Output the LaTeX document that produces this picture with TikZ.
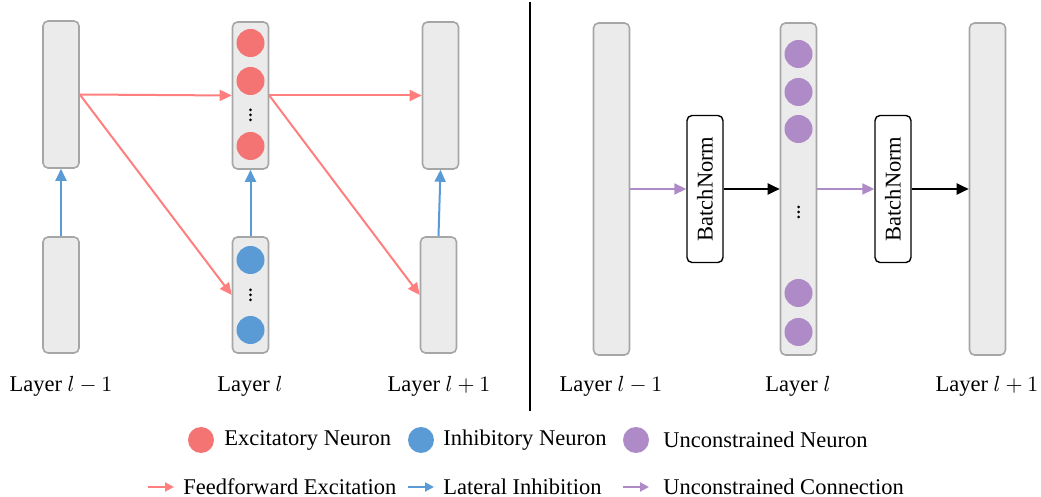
\documentclass[tikz,border=0pt]{standalone}
\usepackage{fontspec}
\setmainfont{Liberation Serif}
\usepackage{tikz}
\usetikzlibrary{arrows.meta,calc}
\definecolor{ExcRed}{HTML}{F47373}
\definecolor{ExcArrow}{HTML}{FF7F7F}
\definecolor{InhBlue}{HTML}{5B9BD5}
\definecolor{FreePurple}{HTML}{AE8AC7}
\definecolor{LayerFill}{HTML}{EBEBEB}
\definecolor{LayerEdge}{HTML}{A6A6A6}
\newcommand{\labelfont}{\fontsize{11.25}{13}\selectfont}
% three small dots stacked at a point
\newcommand{\moredots}[1]{%
  \foreach \dy in {-5,0,5} \fill ($(#1)+(0,\dy)$) circle (0.75pt);}
\tikzset{
  layerbox/.style={draw=LayerEdge, fill=LayerFill, line width=0.8pt, rounded corners=2.5pt,
    minimum width=18pt, inner sep=0pt},
  normbox/.style={draw=black, fill=white, line width=0.7pt, rounded corners=2.5pt,
    minimum width=18pt, minimum height=73.5pt, inner sep=0pt, font=\labelfont},
  neuron/.style={circle, inner sep=0pt, minimum size=14pt},
  keydot/.style={circle, inner sep=0pt, minimum size=13pt},
  exc/.style={ExcArrow, line width=1pt, -{Triangle[length=6pt,width=5.5pt]}},
  inh/.style={InhBlue, line width=1pt, -{Triangle[length=6pt,width=5.5pt]}},
  free/.style={FreePurple, line width=0.9pt, -{Triangle[length=6pt,width=5.5pt]}},
  plain/.style={black, line width=1pt, -{Triangle[length=6pt,width=5.5pt]}},
  keyarrow/.style={line width=1pt, -{Triangle[length=4.5pt,width=4.5pt]}},
  layertext/.style={font=\labelfont, anchor=base},
  keytext/.style={font=\labelfont, anchor=west, inner sep=0pt}
}

\begin{document}
\begin{tikzpicture}[x=0.5pt,y=-0.5pt]
  \useasboundingbox (0,0) rectangle (1041,497);

  %% left panel: layers
  \node[layerbox, minimum height=73.5pt] (a1) at (61,94.5) {};
  \node[layerbox, minimum height=58pt]   (a2) at (61,295) {};
  \node[layerbox, minimum height=73.5pt] (b1) at (250.5,95.5) {};
  \node[layerbox, minimum height=58pt]   (b2) at (250.5,295) {};
  \node[layerbox, minimum height=73.5pt] (c1) at (440.5,95.5) {};
  \node[layerbox, minimum height=58pt]   (c2) at (438.5,295) {};

  %% neurons of layer l
  \foreach \y [count=\i] in {43,81,146}
    \node[neuron, fill=ExcRed] (e\i) at (250.5,\y) {};
  \coordinate (edots) at (250.5,115);
  \moredots{edots}
  \foreach \y [count=\i] in {260,330}
    \node[neuron, fill=InhBlue] (h\i) at (250.5,\y) {};
  \coordinate (hdots) at (250.5,295);
  \moredots{hdots}

  %% connections
  \draw[exc] (a1.east) -- (b1.west);
  \draw[exc] (a1.east) -- (b2.west);
  \draw[exc] (b1.east) -- (c1.west);
  \draw[exc] (b1.east) -- (c2.west);
  \draw[inh] (a2.north) -- (a1.south);
  \draw[inh] (b2.north) -- (b1.south);
  \draw[inh] (c2.north) -- (c1.south);

  \node[layertext] (ta) at (61,392) {Layer $l-1$};
  \node[layertext] (tb) at (250,392) {Layer $l$};
  \node[layertext] (tc) at (439,392) {Layer $l+1$};

  %% divider
  \draw[line width=1.2pt] (530,2) -- (530,411);

  %% right panel
  \node[layerbox, minimum height=166pt] (d) at (611.5,189) {};
  \node[layerbox, minimum height=166pt] (e) at (798.5,189) {};
  \node[layerbox, minimum height=166pt] (f) at (987.5,189) {};
  \node[normbox] (bn1) at (705,189) {\rotatebox{90}{BatchNorm}};
  \node[normbox] (bn2) at (893,189) {\rotatebox{90}{BatchNorm}};

  \foreach \y [count=\i] in {54,92,129,293,332}
    \node[neuron, fill=FreePurple] (u\i) at (798.5,\y) {};
  \coordinate (udots) at (798.5,212);
  \moredots{udots}

  \draw[free]  (d.east) -- (bn1.west);
  \draw[plain] (bn1.east) -- (e.west);
  \draw[free]  (e.east) -- (bn2.west);
  \draw[plain] (bn2.east) -- (f.west);

  \node[layertext] (td) at (611,392) {Layer $l-1$};
  \node[layertext] (te) at (798,392) {Layer $l$};
  \node[layertext] (tf) at (987,392) {Layer $l+1$};

  %% legend
  \node[keydot, fill=ExcRed] (k1) at (201,440) {};
  \node[keytext] at (224,440) {Excitatory Neuron};
  \node[keydot, fill=InhBlue] (k2) at (421,440) {};
  \node[keytext] at (443,440) {Inhibitory Neuron};
  \node[keydot, fill=FreePurple] (k3) at (636,440) {};
  \node[keytext] at (663,440) {Unconstrained Neuron};

  \coordinate (r1a) at (148,487); \coordinate (r1b) at (174,487);
  \coordinate (r2a) at (408,487); \coordinate (r2b) at (434,487);
  \coordinate (r3a) at (623,487); \coordinate (r3b) at (649,487);
  \draw[keyarrow, ExcArrow] (r1a) -- (r1b);
  \node[keytext] at (183,487) {Feedforward Excitation};
  \draw[keyarrow, InhBlue] (r2a) -- (r2b);
  \node[keytext] at (443,487) {Lateral Inhibition};
  \draw[keyarrow, FreePurple] (r3a) -- (r3b);
  \node[keytext] at (663,487) {Unconstrained Connection};
\end{tikzpicture}
\end{document}
